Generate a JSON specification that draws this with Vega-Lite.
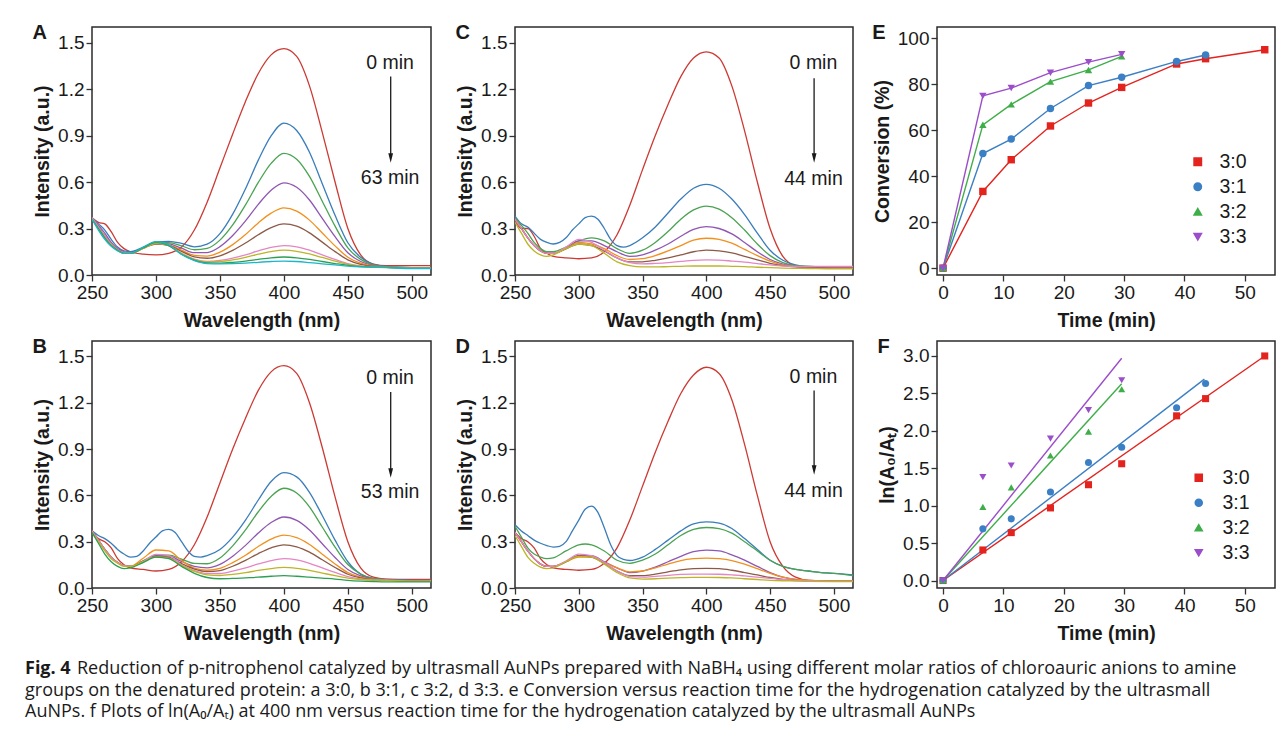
{
"$schema": "https://vega.github.io/schema/vega-lite/v6.json",
"background": "white",
"padding": {"left": 25, "top": 22, "right": 0, "bottom": 0},
"config": {
  "view": {"stroke": "#2b2b2b", "strokeWidth": 1.5},
  "axis": {"labelFont": "Liberation Sans", "labelFontSize": 19, "titleFont": "Liberation Sans", "titleFontSize": 19.5, "titleFontWeight": "bold", "labelColor": "#1a1a1a", "titleColor": "#1a1a1a", "tickColor": "#333333", "tickWidth": 1.3, "domain": false, "grid": false, "labelPadding": 2, "labelFlush": false, "labelOverlap": false},
  "axisX": {"titlePadding": 9},
  "axisY": {"titlePadding": 5},
  "title": {"anchor": "start", "frame": "bounds", "fontSize": 20, "fontWeight": "bold", "font": "Liberation Sans", "color": "#1a1a1a", "baseline": "top", "offset": -16},
  "text": {"font": "Liberation Sans"}
},
"datasets": {
"sA": [
{"k":0,"w":250,"v":0.37},{"k":0,"w":255,"v":0.34},{"k":0,"w":260,"v":0.33},{"k":0,"w":265,"v":0.28},{"k":0,"w":270,"v":0.21},{"k":0,"w":275,"v":0.17},{"k":0,"w":280,"v":0.15},{"k":0,"w":290,"v":0.135},{"k":0,"w":300,"v":0.13},{"k":0,"w":310,"v":0.14},{"k":0,"w":320,"v":0.18},{"k":0,"w":330,"v":0.29},{"k":0,"w":340,"v":0.47},{"k":0,"w":350,"v":0.69},{"k":0,"w":360,"v":0.91},{"k":0,"w":370,"v":1.12},{"k":0,"w":380,"v":1.3},{"k":0,"w":390,"v":1.42},{"k":0,"w":400,"v":1.46},{"k":0,"w":410,"v":1.41},{"k":0,"w":420,"v":1.22},{"k":0,"w":430,"v":0.92},{"k":0,"w":440,"v":0.6},{"k":0,"w":450,"v":0.3},{"k":0,"w":460,"v":0.13},{"k":0,"w":470,"v":0.07},{"k":0,"w":480,"v":0.06},{"k":0,"w":500,"v":0.06},{"k":0,"w":515,"v":0.06},
{"k":1,"w":250,"v":0.37},{"k":1,"w":255,"v":0.33},{"k":1,"w":260,"v":0.29},{"k":1,"w":265,"v":0.23},{"k":1,"w":270,"v":0.18},{"k":1,"w":275,"v":0.155},{"k":1,"w":280,"v":0.15},{"k":1,"w":290,"v":0.179},{"k":1,"w":300,"v":0.213},{"k":1,"w":310,"v":0.217},{"k":1,"w":320,"v":0.204},{"k":1,"w":330,"v":0.182},{"k":1,"w":340,"v":0.199},{"k":1,"w":350,"v":0.267},{"k":1,"w":360,"v":0.393},{"k":1,"w":370,"v":0.557},{"k":1,"w":380,"v":0.741},{"k":1,"w":390,"v":0.897},{"k":1,"w":400,"v":0.98},{"k":1,"w":410,"v":0.932},{"k":1,"w":420,"v":0.792},{"k":1,"w":430,"v":0.589},{"k":1,"w":440,"v":0.385},{"k":1,"w":450,"v":0.208},{"k":1,"w":460,"v":0.114},{"k":1,"w":470,"v":0.068},{"k":1,"w":480,"v":0.055},{"k":1,"w":500,"v":0.048},{"k":1,"w":515,"v":0.048},
{"k":2,"w":250,"v":0.37},{"k":2,"w":255,"v":0.31},{"k":2,"w":260,"v":0.25},{"k":2,"w":265,"v":0.2},{"k":2,"w":270,"v":0.165},{"k":2,"w":275,"v":0.145},{"k":2,"w":280,"v":0.14},{"k":2,"w":290,"v":0.177},{"k":2,"w":300,"v":0.21},{"k":2,"w":310,"v":0.209},{"k":2,"w":320,"v":0.188},{"k":2,"w":330,"v":0.163},{"k":2,"w":340,"v":0.172},{"k":2,"w":350,"v":0.225},{"k":2,"w":360,"v":0.323},{"k":2,"w":370,"v":0.452},{"k":2,"w":380,"v":0.597},{"k":2,"w":390,"v":0.72},{"k":2,"w":400,"v":0.785},{"k":2,"w":410,"v":0.747},{"k":2,"w":420,"v":0.636},{"k":2,"w":430,"v":0.476},{"k":2,"w":440,"v":0.315},{"k":2,"w":450,"v":0.175},{"k":2,"w":460,"v":0.101},{"k":2,"w":470,"v":0.065},{"k":2,"w":480,"v":0.054},{"k":2,"w":500,"v":0.048},{"k":2,"w":515,"v":0.048},
{"k":3,"w":250,"v":0.37},{"k":3,"w":255,"v":0.32},{"k":3,"w":260,"v":0.27},{"k":3,"w":265,"v":0.21},{"k":3,"w":270,"v":0.17},{"k":3,"w":275,"v":0.15},{"k":3,"w":280,"v":0.14},{"k":3,"w":290,"v":0.175},{"k":3,"w":300,"v":0.206},{"k":3,"w":310,"v":0.201},{"k":3,"w":320,"v":0.173},{"k":3,"w":330,"v":0.144},{"k":3,"w":340,"v":0.145},{"k":3,"w":350,"v":0.183},{"k":3,"w":360,"v":0.255},{"k":3,"w":370,"v":0.349},{"k":3,"w":380,"v":0.456},{"k":3,"w":390,"v":0.547},{"k":3,"w":400,"v":0.595},{"k":3,"w":410,"v":0.566},{"k":3,"w":420,"v":0.484},{"k":3,"w":430,"v":0.365},{"k":3,"w":440,"v":0.247},{"k":3,"w":450,"v":0.143},{"k":3,"w":460,"v":0.087},{"k":3,"w":470,"v":0.061},{"k":3,"w":480,"v":0.053},{"k":3,"w":500,"v":0.047},{"k":3,"w":515,"v":0.047},
{"k":4,"w":250,"v":0.37},{"k":4,"w":255,"v":0.31},{"k":4,"w":260,"v":0.25},{"k":4,"w":265,"v":0.2},{"k":4,"w":270,"v":0.165},{"k":4,"w":275,"v":0.145},{"k":4,"w":280,"v":0.14},{"k":4,"w":290,"v":0.174},{"k":4,"w":300,"v":0.202},{"k":4,"w":310,"v":0.195},{"k":4,"w":320,"v":0.16},{"k":4,"w":330,"v":0.127},{"k":4,"w":340,"v":0.122},{"k":4,"w":350,"v":0.147},{"k":4,"w":360,"v":0.196},{"k":4,"w":370,"v":0.261},{"k":4,"w":380,"v":0.336},{"k":4,"w":390,"v":0.399},{"k":4,"w":400,"v":0.433},{"k":4,"w":410,"v":0.412},{"k":4,"w":420,"v":0.354},{"k":4,"w":430,"v":0.271},{"k":4,"w":440,"v":0.188},{"k":4,"w":450,"v":0.115},{"k":4,"w":460,"v":0.076},{"k":4,"w":470,"v":0.057},{"k":4,"w":480,"v":0.052},{"k":4,"w":500,"v":0.046},{"k":4,"w":515,"v":0.046},
{"k":5,"w":250,"v":0.37},{"k":5,"w":255,"v":0.31},{"k":5,"w":260,"v":0.25},{"k":5,"w":265,"v":0.2},{"k":5,"w":270,"v":0.165},{"k":5,"w":275,"v":0.145},{"k":5,"w":280,"v":0.14},{"k":5,"w":290,"v":0.173},{"k":5,"w":300,"v":0.2},{"k":5,"w":310,"v":0.191},{"k":5,"w":320,"v":0.152},{"k":5,"w":330,"v":0.117},{"k":5,"w":340,"v":0.108},{"k":5,"w":350,"v":0.124},{"k":5,"w":360,"v":0.159},{"k":5,"w":370,"v":0.206},{"k":5,"w":380,"v":0.26},{"k":5,"w":390,"v":0.306},{"k":5,"w":400,"v":0.33},{"k":5,"w":410,"v":0.315},{"k":5,"w":420,"v":0.272},{"k":5,"w":430,"v":0.212},{"k":5,"w":440,"v":0.151},{"k":5,"w":450,"v":0.098},{"k":5,"w":460,"v":0.069},{"k":5,"w":470,"v":0.055},{"k":5,"w":480,"v":0.051},{"k":5,"w":500,"v":0.045},{"k":5,"w":515,"v":0.045},
{"k":6,"w":250,"v":0.37},{"k":6,"w":255,"v":0.31},{"k":6,"w":260,"v":0.25},{"k":6,"w":265,"v":0.2},{"k":6,"w":270,"v":0.165},{"k":6,"w":275,"v":0.145},{"k":6,"w":280,"v":0.14},{"k":6,"w":290,"v":0.171},{"k":6,"w":300,"v":0.205},{"k":6,"w":310,"v":0.19},{"k":6,"w":320,"v":0.14},{"k":6,"w":330,"v":0.103},{"k":6,"w":340,"v":0.088},{"k":6,"w":350,"v":0.094},{"k":6,"w":360,"v":0.109},{"k":6,"w":370,"v":0.13},{"k":6,"w":380,"v":0.156},{"k":6,"w":390,"v":0.178},{"k":6,"w":400,"v":0.19},{"k":6,"w":410,"v":0.182},{"k":6,"w":420,"v":0.16},{"k":6,"w":430,"v":0.13},{"k":6,"w":440,"v":0.101},{"k":6,"w":450,"v":0.074},{"k":6,"w":460,"v":0.059},{"k":6,"w":470,"v":0.053},{"k":6,"w":480,"v":0.051},{"k":6,"w":500,"v":0.045},{"k":6,"w":515,"v":0.045},
{"k":7,"w":250,"v":0.36},{"k":7,"w":255,"v":0.3},{"k":7,"w":260,"v":0.24},{"k":7,"w":265,"v":0.195},{"k":7,"w":270,"v":0.16},{"k":7,"w":275,"v":0.14},{"k":7,"w":280,"v":0.14},{"k":7,"w":290,"v":0.171},{"k":7,"w":300,"v":0.205},{"k":7,"w":310,"v":0.19},{"k":7,"w":320,"v":0.138},{"k":7,"w":330,"v":0.1},{"k":7,"w":340,"v":0.084},{"k":7,"w":350,"v":0.087},{"k":7,"w":360,"v":0.098},{"k":7,"w":370,"v":0.114},{"k":7,"w":380,"v":0.134},{"k":7,"w":390,"v":0.151},{"k":7,"w":400,"v":0.16},{"k":7,"w":410,"v":0.153},{"k":7,"w":420,"v":0.136},{"k":7,"w":430,"v":0.113},{"k":7,"w":440,"v":0.09},{"k":7,"w":450,"v":0.069},{"k":7,"w":460,"v":0.057},{"k":7,"w":470,"v":0.052},{"k":7,"w":480,"v":0.05},{"k":7,"w":500,"v":0.044},{"k":7,"w":515,"v":0.044},
{"k":8,"w":250,"v":0.36},{"k":8,"w":255,"v":0.3},{"k":8,"w":260,"v":0.24},{"k":8,"w":265,"v":0.19},{"k":8,"w":270,"v":0.16},{"k":8,"w":275,"v":0.14},{"k":8,"w":280,"v":0.14},{"k":8,"w":290,"v":0.175},{"k":8,"w":300,"v":0.21},{"k":8,"w":310,"v":0.19},{"k":8,"w":320,"v":0.134},{"k":8,"w":330,"v":0.096},{"k":8,"w":340,"v":0.078},{"k":8,"w":350,"v":0.077},{"k":8,"w":360,"v":0.082},{"k":8,"w":370,"v":0.09},{"k":8,"w":380,"v":0.101},{"k":8,"w":390,"v":0.111},{"k":8,"w":400,"v":0.116},{"k":8,"w":410,"v":0.111},{"k":8,"w":420,"v":0.101},{"k":8,"w":430,"v":0.087},{"k":8,"w":440,"v":0.074},{"k":8,"w":450,"v":0.062},{"k":8,"w":460,"v":0.054},{"k":8,"w":470,"v":0.051},{"k":8,"w":480,"v":0.05},{"k":8,"w":500,"v":0.043},{"k":8,"w":515,"v":0.043},
{"k":9,"w":250,"v":0.36},{"k":9,"w":255,"v":0.29},{"k":9,"w":260,"v":0.23},{"k":9,"w":265,"v":0.185},{"k":9,"w":270,"v":0.155},{"k":9,"w":275,"v":0.14},{"k":9,"w":280,"v":0.14},{"k":9,"w":290,"v":0.18},{"k":9,"w":300,"v":0.215},{"k":9,"w":310,"v":0.195},{"k":9,"w":320,"v":0.132},{"k":9,"w":330,"v":0.093},{"k":9,"w":340,"v":0.074},{"k":9,"w":350,"v":0.072},{"k":9,"w":360,"v":0.073},{"k":9,"w":370,"v":0.076},{"k":9,"w":380,"v":0.082},{"k":9,"w":390,"v":0.087},{"k":9,"w":400,"v":0.09},{"k":9,"w":410,"v":0.087},{"k":9,"w":420,"v":0.08},{"k":9,"w":430,"v":0.072},{"k":9,"w":440,"v":0.065},{"k":9,"w":450,"v":0.057},{"k":9,"w":460,"v":0.052},{"k":9,"w":470,"v":0.05},{"k":9,"w":480,"v":0.048},{"k":9,"w":500,"v":0.042},{"k":9,"w":515,"v":0.042}
],
"sB": [
{"k":0,"w":250,"v":0.37},{"k":0,"w":255,"v":0.32},{"k":0,"w":260,"v":0.3},{"k":0,"w":265,"v":0.26},{"k":0,"w":270,"v":0.19},{"k":0,"w":275,"v":0.15},{"k":0,"w":280,"v":0.13},{"k":0,"w":290,"v":0.12},{"k":0,"w":300,"v":0.11},{"k":0,"w":310,"v":0.12},{"k":0,"w":320,"v":0.17},{"k":0,"w":330,"v":0.28},{"k":0,"w":340,"v":0.46},{"k":0,"w":350,"v":0.68},{"k":0,"w":360,"v":0.9},{"k":0,"w":370,"v":1.1},{"k":0,"w":380,"v":1.28},{"k":0,"w":390,"v":1.4},{"k":0,"w":400,"v":1.44},{"k":0,"w":410,"v":1.39},{"k":0,"w":420,"v":1.2},{"k":0,"w":430,"v":0.91},{"k":0,"w":440,"v":0.59},{"k":0,"w":450,"v":0.3},{"k":0,"w":460,"v":0.13},{"k":0,"w":470,"v":0.07},{"k":0,"w":480,"v":0.058},{"k":0,"w":500,"v":0.055},{"k":0,"w":515,"v":0.055},
{"k":1,"w":250,"v":0.37},{"k":1,"w":255,"v":0.34},{"k":1,"w":260,"v":0.32},{"k":1,"w":265,"v":0.29},{"k":1,"w":270,"v":0.25},{"k":1,"w":275,"v":0.22},{"k":1,"w":280,"v":0.2},{"k":1,"w":285,"v":0.205},{"k":1,"w":290,"v":0.24},{"k":1,"w":295,"v":0.29},{"k":1,"w":300,"v":0.33},{"k":1,"w":305,"v":0.37},{"k":1,"w":310,"v":0.38},{"k":1,"w":315,"v":0.36},{"k":1,"w":320,"v":0.3},{"k":1,"w":325,"v":0.24},{"k":1,"w":330,"v":0.205},{"k":1,"w":335,"v":0.2},{"k":1,"w":340,"v":0.21},{"k":1,"w":350,"v":0.25},{"k":1,"w":360,"v":0.33},{"k":1,"w":370,"v":0.44},{"k":1,"w":380,"v":0.57},{"k":1,"w":390,"v":0.69},{"k":1,"w":400,"v":0.747},{"k":1,"w":410,"v":0.72},{"k":1,"w":420,"v":0.62},{"k":1,"w":430,"v":0.47},{"k":1,"w":440,"v":0.31},{"k":1,"w":450,"v":0.17},{"k":1,"w":460,"v":0.09},{"k":1,"w":470,"v":0.062},{"k":1,"w":480,"v":0.055},{"k":1,"w":500,"v":0.05},{"k":1,"w":515,"v":0.05},
{"k":2,"w":250,"v":0.37},{"k":2,"w":255,"v":0.31},{"k":2,"w":260,"v":0.25},{"k":2,"w":265,"v":0.2},{"k":2,"w":270,"v":0.165},{"k":2,"w":275,"v":0.145},{"k":2,"w":280,"v":0.14},{"k":2,"w":290,"v":0.176},{"k":2,"w":300,"v":0.212},{"k":2,"w":310,"v":0.213},{"k":2,"w":320,"v":0.187},{"k":2,"w":330,"v":0.159},{"k":2,"w":340,"v":0.157},{"k":2,"w":350,"v":0.194},{"k":2,"w":360,"v":0.273},{"k":2,"w":370,"v":0.376},{"k":2,"w":380,"v":0.494},{"k":2,"w":390,"v":0.593},{"k":2,"w":400,"v":0.646},{"k":2,"w":410,"v":0.615},{"k":2,"w":420,"v":0.525},{"k":2,"w":430,"v":0.395},{"k":2,"w":440,"v":0.265},{"k":2,"w":450,"v":0.152},{"k":2,"w":460,"v":0.091},{"k":2,"w":470,"v":0.062},{"k":2,"w":480,"v":0.053},{"k":2,"w":500,"v":0.048},{"k":2,"w":515,"v":0.048},
{"k":3,"w":250,"v":0.37},{"k":3,"w":255,"v":0.31},{"k":3,"w":260,"v":0.25},{"k":3,"w":265,"v":0.2},{"k":3,"w":270,"v":0.165},{"k":3,"w":275,"v":0.145},{"k":3,"w":280,"v":0.14},{"k":3,"w":290,"v":0.174},{"k":3,"w":300,"v":0.208},{"k":3,"w":310,"v":0.206},{"k":3,"w":320,"v":0.172},{"k":3,"w":330,"v":0.14},{"k":3,"w":340,"v":0.131},{"k":3,"w":350,"v":0.153},{"k":3,"w":360,"v":0.206},{"k":3,"w":370,"v":0.276},{"k":3,"w":380,"v":0.356},{"k":3,"w":390,"v":0.424},{"k":3,"w":400,"v":0.46},{"k":3,"w":410,"v":0.438},{"k":3,"w":420,"v":0.376},{"k":3,"w":430,"v":0.287},{"k":3,"w":440,"v":0.198},{"k":3,"w":450,"v":0.12},{"k":3,"w":460,"v":0.078},{"k":3,"w":470,"v":0.058},{"k":3,"w":480,"v":0.052},{"k":3,"w":500,"v":0.047},{"k":3,"w":515,"v":0.047},
{"k":4,"w":250,"v":0.37},{"k":4,"w":255,"v":0.31},{"k":4,"w":260,"v":0.25},{"k":4,"w":265,"v":0.2},{"k":4,"w":270,"v":0.165},{"k":4,"w":275,"v":0.145},{"k":4,"w":280,"v":0.14},{"k":4,"w":290,"v":0.193},{"k":4,"w":300,"v":0.246},{"k":4,"w":310,"v":0.241},{"k":4,"w":320,"v":0.178},{"k":4,"w":330,"v":0.128},{"k":4,"w":340,"v":0.115},{"k":4,"w":350,"v":0.127},{"k":4,"w":360,"v":0.164},{"k":4,"w":370,"v":0.212},{"k":4,"w":380,"v":0.269},{"k":4,"w":390,"v":0.317},{"k":4,"w":400,"v":0.342},{"k":4,"w":410,"v":0.326},{"k":4,"w":420,"v":0.282},{"k":4,"w":430,"v":0.219},{"k":4,"w":440,"v":0.156},{"k":4,"w":450,"v":0.1},{"k":4,"w":460,"v":0.07},{"k":4,"w":470,"v":0.056},{"k":4,"w":480,"v":0.051},{"k":4,"w":500,"v":0.046},{"k":4,"w":515,"v":0.046},
{"k":5,"w":250,"v":0.37},{"k":5,"w":255,"v":0.31},{"k":5,"w":260,"v":0.25},{"k":5,"w":265,"v":0.2},{"k":5,"w":270,"v":0.165},{"k":5,"w":275,"v":0.145},{"k":5,"w":280,"v":0.14},{"k":5,"w":290,"v":0.172},{"k":5,"w":300,"v":0.204},{"k":5,"w":310,"v":0.199},{"k":5,"w":320,"v":0.158},{"k":5,"w":330,"v":0.122},{"k":5,"w":340,"v":0.106},{"k":5,"w":350,"v":0.113},{"k":5,"w":360,"v":0.141},{"k":5,"w":370,"v":0.179},{"k":5,"w":380,"v":0.223},{"k":5,"w":390,"v":0.26},{"k":5,"w":400,"v":0.28},{"k":5,"w":410,"v":0.267},{"k":5,"w":420,"v":0.232},{"k":5,"w":430,"v":0.183},{"k":5,"w":440,"v":0.133},{"k":5,"w":450,"v":0.089},{"k":5,"w":460,"v":0.065},{"k":5,"w":470,"v":0.054},{"k":5,"w":480,"v":0.051},{"k":5,"w":500,"v":0.046},{"k":5,"w":515,"v":0.046},
{"k":6,"w":250,"v":0.37},{"k":6,"w":255,"v":0.31},{"k":6,"w":260,"v":0.25},{"k":6,"w":265,"v":0.2},{"k":6,"w":270,"v":0.165},{"k":6,"w":275,"v":0.145},{"k":6,"w":280,"v":0.14},{"k":6,"w":290,"v":0.171},{"k":6,"w":300,"v":0.218},{"k":6,"w":310,"v":0.21},{"k":6,"w":320,"v":0.15},{"k":6,"w":330,"v":0.113},{"k":6,"w":340,"v":0.093},{"k":6,"w":350,"v":0.094},{"k":6,"w":360,"v":0.109},{"k":6,"w":370,"v":0.13},{"k":6,"w":380,"v":0.156},{"k":6,"w":390,"v":0.178},{"k":6,"w":400,"v":0.19},{"k":6,"w":410,"v":0.182},{"k":6,"w":420,"v":0.16},{"k":6,"w":430,"v":0.13},{"k":6,"w":440,"v":0.101},{"k":6,"w":450,"v":0.074},{"k":6,"w":460,"v":0.059},{"k":6,"w":470,"v":0.053},{"k":6,"w":480,"v":0.051},{"k":6,"w":500,"v":0.045},{"k":6,"w":515,"v":0.045},
{"k":7,"w":250,"v":0.36},{"k":7,"w":255,"v":0.3},{"k":7,"w":260,"v":0.24},{"k":7,"w":265,"v":0.19},{"k":7,"w":270,"v":0.16},{"k":7,"w":275,"v":0.14},{"k":7,"w":280,"v":0.14},{"k":7,"w":290,"v":0.171},{"k":7,"w":300,"v":0.201},{"k":7,"w":310,"v":0.193},{"k":7,"w":320,"v":0.146},{"k":7,"w":330,"v":0.107},{"k":7,"w":340,"v":0.085},{"k":7,"w":350,"v":0.081},{"k":7,"w":360,"v":0.088},{"k":7,"w":370,"v":0.099},{"k":7,"w":380,"v":0.114},{"k":7,"w":390,"v":0.126},{"k":7,"w":400,"v":0.133},{"k":7,"w":410,"v":0.127},{"k":7,"w":420,"v":0.114},{"k":7,"w":430,"v":0.097},{"k":7,"w":440,"v":0.08},{"k":7,"w":450,"v":0.064},{"k":7,"w":460,"v":0.055},{"k":7,"w":470,"v":0.051},{"k":7,"w":480,"v":0.05},{"k":7,"w":500,"v":0.044},{"k":7,"w":515,"v":0.044},
{"k":8,"w":250,"v":0.36},{"k":8,"w":255,"v":0.29},{"k":8,"w":260,"v":0.22},{"k":8,"w":265,"v":0.17},{"k":8,"w":270,"v":0.14},{"k":8,"w":275,"v":0.125},{"k":8,"w":280,"v":0.13},{"k":8,"w":290,"v":0.165},{"k":8,"w":300,"v":0.2},{"k":8,"w":310,"v":0.19},{"k":8,"w":320,"v":0.14},{"k":8,"w":330,"v":0.095},{"k":8,"w":340,"v":0.068},{"k":8,"w":350,"v":0.06},{"k":8,"w":360,"v":0.062},{"k":8,"w":370,"v":0.066},{"k":8,"w":380,"v":0.07},{"k":8,"w":390,"v":0.076},{"k":8,"w":400,"v":0.08},{"k":8,"w":410,"v":0.076},{"k":8,"w":420,"v":0.07},{"k":8,"w":430,"v":0.064},{"k":8,"w":440,"v":0.058},{"k":8,"w":450,"v":0.05},{"k":8,"w":460,"v":0.045},{"k":8,"w":470,"v":0.042},{"k":8,"w":480,"v":0.04},{"k":8,"w":500,"v":0.04},{"k":8,"w":515,"v":0.04}
],
"sC": [
{"k":0,"w":250,"v":0.35},{"k":0,"w":255,"v":0.3},{"k":0,"w":260,"v":0.3},{"k":0,"w":265,"v":0.25},{"k":0,"w":270,"v":0.17},{"k":0,"w":275,"v":0.14},{"k":0,"w":280,"v":0.12},{"k":0,"w":290,"v":0.11},{"k":0,"w":300,"v":0.105},{"k":0,"w":310,"v":0.11},{"k":0,"w":320,"v":0.15},{"k":0,"w":330,"v":0.26},{"k":0,"w":340,"v":0.45},{"k":0,"w":350,"v":0.68},{"k":0,"w":360,"v":0.9},{"k":0,"w":370,"v":1.1},{"k":0,"w":380,"v":1.28},{"k":0,"w":390,"v":1.4},{"k":0,"w":400,"v":1.44},{"k":0,"w":410,"v":1.4},{"k":0,"w":420,"v":1.22},{"k":0,"w":430,"v":0.93},{"k":0,"w":440,"v":0.6},{"k":0,"w":450,"v":0.3},{"k":0,"w":460,"v":0.12},{"k":0,"w":470,"v":0.06},{"k":0,"w":480,"v":0.05},{"k":0,"w":500,"v":0.05},{"k":0,"w":515,"v":0.05},
{"k":1,"w":250,"v":0.38},{"k":1,"w":255,"v":0.33},{"k":1,"w":260,"v":0.31},{"k":1,"w":265,"v":0.27},{"k":1,"w":270,"v":0.23},{"k":1,"w":275,"v":0.21},{"k":1,"w":280,"v":0.2},{"k":1,"w":285,"v":0.21},{"k":1,"w":290,"v":0.24},{"k":1,"w":295,"v":0.29},{"k":1,"w":300,"v":0.33},{"k":1,"w":305,"v":0.37},{"k":1,"w":310,"v":0.38},{"k":1,"w":315,"v":0.36},{"k":1,"w":320,"v":0.3},{"k":1,"w":325,"v":0.23},{"k":1,"w":330,"v":0.19},{"k":1,"w":335,"v":0.18},{"k":1,"w":340,"v":0.19},{"k":1,"w":350,"v":0.24},{"k":1,"w":360,"v":0.31},{"k":1,"w":370,"v":0.4},{"k":1,"w":380,"v":0.49},{"k":1,"w":390,"v":0.56},{"k":1,"w":400,"v":0.585},{"k":1,"w":410,"v":0.56},{"k":1,"w":420,"v":0.49},{"k":1,"w":430,"v":0.39},{"k":1,"w":440,"v":0.27},{"k":1,"w":450,"v":0.16},{"k":1,"w":460,"v":0.095},{"k":1,"w":470,"v":0.065},{"k":1,"w":480,"v":0.055},{"k":1,"w":500,"v":0.05},{"k":1,"w":515,"v":0.05},
{"k":2,"w":250,"v":0.37},{"k":2,"w":255,"v":0.32},{"k":2,"w":260,"v":0.27},{"k":2,"w":265,"v":0.21},{"k":2,"w":270,"v":0.17},{"k":2,"w":275,"v":0.15},{"k":2,"w":280,"v":0.15},{"k":2,"w":290,"v":0.18},{"k":2,"w":300,"v":0.22},{"k":2,"w":310,"v":0.24},{"k":2,"w":320,"v":0.22},{"k":2,"w":330,"v":0.17},{"k":2,"w":340,"v":0.14},{"k":2,"w":350,"v":0.16},{"k":2,"w":360,"v":0.21},{"k":2,"w":370,"v":0.28},{"k":2,"w":380,"v":0.36},{"k":2,"w":390,"v":0.42},{"k":2,"w":400,"v":0.445},{"k":2,"w":410,"v":0.425},{"k":2,"w":420,"v":0.37},{"k":2,"w":430,"v":0.29},{"k":2,"w":440,"v":0.2},{"k":2,"w":450,"v":0.125},{"k":2,"w":460,"v":0.08},{"k":2,"w":470,"v":0.06},{"k":2,"w":480,"v":0.055},{"k":2,"w":500,"v":0.05},{"k":2,"w":515,"v":0.05},
{"k":3,"w":250,"v":0.36},{"k":3,"w":255,"v":0.3},{"k":3,"w":260,"v":0.24},{"k":3,"w":265,"v":0.19},{"k":3,"w":270,"v":0.155},{"k":3,"w":275,"v":0.14},{"k":3,"w":280,"v":0.14},{"k":3,"w":290,"v":0.17},{"k":3,"w":300,"v":0.22},{"k":3,"w":310,"v":0.22},{"k":3,"w":320,"v":0.19},{"k":3,"w":330,"v":0.15},{"k":3,"w":340,"v":0.12},{"k":3,"w":350,"v":0.13},{"k":3,"w":360,"v":0.16},{"k":3,"w":370,"v":0.2},{"k":3,"w":380,"v":0.25},{"k":3,"w":390,"v":0.295},{"k":3,"w":400,"v":0.312},{"k":3,"w":410,"v":0.3},{"k":3,"w":420,"v":0.265},{"k":3,"w":430,"v":0.21},{"k":3,"w":440,"v":0.15},{"k":3,"w":450,"v":0.1},{"k":3,"w":460,"v":0.07},{"k":3,"w":470,"v":0.055},{"k":3,"w":480,"v":0.05},{"k":3,"w":500,"v":0.048},{"k":3,"w":515,"v":0.048},
{"k":4,"w":250,"v":0.36},{"k":4,"w":255,"v":0.3},{"k":4,"w":260,"v":0.24},{"k":4,"w":265,"v":0.19},{"k":4,"w":270,"v":0.155},{"k":4,"w":275,"v":0.14},{"k":4,"w":280,"v":0.14},{"k":4,"w":290,"v":0.17},{"k":4,"w":300,"v":0.21},{"k":4,"w":310,"v":0.2},{"k":4,"w":320,"v":0.17},{"k":4,"w":330,"v":0.125},{"k":4,"w":340,"v":0.1},{"k":4,"w":350,"v":0.105},{"k":4,"w":360,"v":0.125},{"k":4,"w":370,"v":0.155},{"k":4,"w":380,"v":0.19},{"k":4,"w":390,"v":0.225},{"k":4,"w":400,"v":0.237},{"k":4,"w":410,"v":0.23},{"k":4,"w":420,"v":0.205},{"k":4,"w":430,"v":0.165},{"k":4,"w":440,"v":0.125},{"k":4,"w":450,"v":0.09},{"k":4,"w":460,"v":0.065},{"k":4,"w":470,"v":0.055},{"k":4,"w":480,"v":0.05},{"k":4,"w":500,"v":0.046},{"k":4,"w":515,"v":0.046},
{"k":5,"w":250,"v":0.36},{"k":5,"w":255,"v":0.3},{"k":5,"w":260,"v":0.24},{"k":5,"w":265,"v":0.19},{"k":5,"w":270,"v":0.155},{"k":5,"w":275,"v":0.14},{"k":5,"w":280,"v":0.14},{"k":5,"w":290,"v":0.17},{"k":5,"w":300,"v":0.2},{"k":5,"w":310,"v":0.19},{"k":5,"w":320,"v":0.155},{"k":5,"w":330,"v":0.11},{"k":5,"w":340,"v":0.085},{"k":5,"w":350,"v":0.085},{"k":5,"w":360,"v":0.095},{"k":5,"w":370,"v":0.11},{"k":5,"w":380,"v":0.13},{"k":5,"w":390,"v":0.15},{"k":5,"w":400,"v":0.16},{"k":5,"w":410,"v":0.156},{"k":5,"w":420,"v":0.142},{"k":5,"w":430,"v":0.12},{"k":5,"w":440,"v":0.098},{"k":5,"w":450,"v":0.075},{"k":5,"w":460,"v":0.06},{"k":5,"w":470,"v":0.052},{"k":5,"w":480,"v":0.05},{"k":5,"w":500,"v":0.046},{"k":5,"w":515,"v":0.046},
{"k":6,"w":250,"v":0.36},{"k":6,"w":255,"v":0.3},{"k":6,"w":260,"v":0.24},{"k":6,"w":265,"v":0.19},{"k":6,"w":270,"v":0.155},{"k":6,"w":275,"v":0.14},{"k":6,"w":280,"v":0.14},{"k":6,"w":290,"v":0.18},{"k":6,"w":300,"v":0.23},{"k":6,"w":310,"v":0.21},{"k":6,"w":320,"v":0.16},{"k":6,"w":330,"v":0.11},{"k":6,"w":340,"v":0.08},{"k":6,"w":350,"v":0.072},{"k":6,"w":360,"v":0.075},{"k":6,"w":370,"v":0.08},{"k":6,"w":380,"v":0.088},{"k":6,"w":390,"v":0.095},{"k":6,"w":400,"v":0.097},{"k":6,"w":410,"v":0.096},{"k":6,"w":420,"v":0.09},{"k":6,"w":430,"v":0.083},{"k":6,"w":440,"v":0.074},{"k":6,"w":450,"v":0.065},{"k":6,"w":460,"v":0.058},{"k":6,"w":470,"v":0.055},{"k":6,"w":480,"v":0.055},{"k":6,"w":500,"v":0.055},{"k":6,"w":515,"v":0.055},
{"k":7,"w":250,"v":0.34},{"k":7,"w":255,"v":0.27},{"k":7,"w":260,"v":0.2},{"k":7,"w":265,"v":0.155},{"k":7,"w":270,"v":0.13},{"k":7,"w":275,"v":0.12},{"k":7,"w":280,"v":0.13},{"k":7,"w":290,"v":0.17},{"k":7,"w":300,"v":0.2},{"k":7,"w":310,"v":0.19},{"k":7,"w":320,"v":0.14},{"k":7,"w":330,"v":0.085},{"k":7,"w":340,"v":0.06},{"k":7,"w":350,"v":0.052},{"k":7,"w":360,"v":0.052},{"k":7,"w":370,"v":0.054},{"k":7,"w":380,"v":0.056},{"k":7,"w":390,"v":0.058},{"k":7,"w":400,"v":0.058},{"k":7,"w":410,"v":0.058},{"k":7,"w":420,"v":0.056},{"k":7,"w":430,"v":0.054},{"k":7,"w":440,"v":0.05},{"k":7,"w":450,"v":0.047},{"k":7,"w":460,"v":0.045},{"k":7,"w":470,"v":0.043},{"k":7,"w":480,"v":0.042},{"k":7,"w":500,"v":0.04},{"k":7,"w":515,"v":0.04}
],
"sD": [
{"k":0,"w":250,"v":0.36},{"k":0,"w":255,"v":0.32},{"k":0,"w":260,"v":0.3},{"k":0,"w":265,"v":0.26},{"k":0,"w":270,"v":0.19},{"k":0,"w":275,"v":0.15},{"k":0,"w":280,"v":0.13},{"k":0,"w":290,"v":0.12},{"k":0,"w":300,"v":0.115},{"k":0,"w":310,"v":0.12},{"k":0,"w":320,"v":0.16},{"k":0,"w":330,"v":0.26},{"k":0,"w":340,"v":0.44},{"k":0,"w":350,"v":0.66},{"k":0,"w":360,"v":0.88},{"k":0,"w":370,"v":1.08},{"k":0,"w":380,"v":1.26},{"k":0,"w":390,"v":1.38},{"k":0,"w":400,"v":1.43},{"k":0,"w":410,"v":1.39},{"k":0,"w":420,"v":1.22},{"k":0,"w":430,"v":0.93},{"k":0,"w":440,"v":0.6},{"k":0,"w":450,"v":0.3},{"k":0,"w":460,"v":0.14},{"k":0,"w":470,"v":0.07},{"k":0,"w":480,"v":0.05},{"k":0,"w":500,"v":0.045},{"k":0,"w":515,"v":0.045},
{"k":1,"w":250,"v":0.41},{"k":1,"w":255,"v":0.37},{"k":1,"w":260,"v":0.34},{"k":1,"w":265,"v":0.31},{"k":1,"w":270,"v":0.29},{"k":1,"w":275,"v":0.275},{"k":1,"w":280,"v":0.265},{"k":1,"w":285,"v":0.27},{"k":1,"w":290,"v":0.3},{"k":1,"w":295,"v":0.37},{"k":1,"w":300,"v":0.44},{"k":1,"w":305,"v":0.51},{"k":1,"w":310,"v":0.53},{"k":1,"w":315,"v":0.49},{"k":1,"w":320,"v":0.39},{"k":1,"w":325,"v":0.28},{"k":1,"w":330,"v":0.21},{"k":1,"w":335,"v":0.185},{"k":1,"w":340,"v":0.178},{"k":1,"w":350,"v":0.2},{"k":1,"w":360,"v":0.25},{"k":1,"w":370,"v":0.31},{"k":1,"w":380,"v":0.37},{"k":1,"w":390,"v":0.415},{"k":1,"w":400,"v":0.428},{"k":1,"w":410,"v":0.42},{"k":1,"w":420,"v":0.385},{"k":1,"w":430,"v":0.32},{"k":1,"w":440,"v":0.25},{"k":1,"w":450,"v":0.18},{"k":1,"w":460,"v":0.14},{"k":1,"w":470,"v":0.12},{"k":1,"w":480,"v":0.11},{"k":1,"w":490,"v":0.1},{"k":1,"w":500,"v":0.095},{"k":1,"w":515,"v":0.085},
{"k":2,"w":250,"v":0.4},{"k":2,"w":255,"v":0.33},{"k":2,"w":260,"v":0.26},{"k":2,"w":265,"v":0.22},{"k":2,"w":270,"v":0.2},{"k":2,"w":275,"v":0.19},{"k":2,"w":280,"v":0.195},{"k":2,"w":290,"v":0.24},{"k":2,"w":300,"v":0.28},{"k":2,"w":305,"v":0.285},{"k":2,"w":310,"v":0.28},{"k":2,"w":320,"v":0.24},{"k":2,"w":330,"v":0.18},{"k":2,"w":340,"v":0.16},{"k":2,"w":350,"v":0.18},{"k":2,"w":360,"v":0.22},{"k":2,"w":370,"v":0.28},{"k":2,"w":380,"v":0.34},{"k":2,"w":390,"v":0.38},{"k":2,"w":400,"v":0.392},{"k":2,"w":410,"v":0.385},{"k":2,"w":420,"v":0.355},{"k":2,"w":430,"v":0.3},{"k":2,"w":440,"v":0.24},{"k":2,"w":450,"v":0.18},{"k":2,"w":460,"v":0.14},{"k":2,"w":470,"v":0.12},{"k":2,"w":480,"v":0.11},{"k":2,"w":490,"v":0.1},{"k":2,"w":500,"v":0.095},{"k":2,"w":515,"v":0.08},
{"k":3,"w":250,"v":0.36},{"k":3,"w":255,"v":0.3},{"k":3,"w":260,"v":0.24},{"k":3,"w":265,"v":0.19},{"k":3,"w":270,"v":0.155},{"k":3,"w":275,"v":0.14},{"k":3,"w":280,"v":0.14},{"k":3,"w":290,"v":0.17},{"k":3,"w":300,"v":0.21},{"k":3,"w":310,"v":0.21},{"k":3,"w":320,"v":0.17},{"k":3,"w":330,"v":0.13},{"k":3,"w":340,"v":0.1},{"k":3,"w":350,"v":0.11},{"k":3,"w":360,"v":0.135},{"k":3,"w":370,"v":0.17},{"k":3,"w":380,"v":0.205},{"k":3,"w":390,"v":0.235},{"k":3,"w":400,"v":0.245},{"k":3,"w":410,"v":0.24},{"k":3,"w":420,"v":0.215},{"k":3,"w":430,"v":0.18},{"k":3,"w":440,"v":0.14},{"k":3,"w":450,"v":0.1},{"k":3,"w":460,"v":0.07},{"k":3,"w":470,"v":0.055},{"k":3,"w":480,"v":0.05},{"k":3,"w":500,"v":0.045},{"k":3,"w":515,"v":0.045},
{"k":4,"w":250,"v":0.36},{"k":4,"w":255,"v":0.3},{"k":4,"w":260,"v":0.24},{"k":4,"w":265,"v":0.19},{"k":4,"w":270,"v":0.155},{"k":4,"w":275,"v":0.14},{"k":4,"w":280,"v":0.14},{"k":4,"w":290,"v":0.17},{"k":4,"w":300,"v":0.2},{"k":4,"w":310,"v":0.2},{"k":4,"w":320,"v":0.165},{"k":4,"w":330,"v":0.13},{"k":4,"w":340,"v":0.105},{"k":4,"w":350,"v":0.11},{"k":4,"w":360,"v":0.13},{"k":4,"w":370,"v":0.155},{"k":4,"w":380,"v":0.178},{"k":4,"w":390,"v":0.19},{"k":4,"w":400,"v":0.194},{"k":4,"w":410,"v":0.19},{"k":4,"w":420,"v":0.178},{"k":4,"w":430,"v":0.155},{"k":4,"w":440,"v":0.125},{"k":4,"w":450,"v":0.095},{"k":4,"w":460,"v":0.07},{"k":4,"w":470,"v":0.055},{"k":4,"w":480,"v":0.05},{"k":4,"w":500,"v":0.045},{"k":4,"w":515,"v":0.045},
{"k":5,"w":250,"v":0.36},{"k":5,"w":255,"v":0.3},{"k":5,"w":260,"v":0.24},{"k":5,"w":265,"v":0.19},{"k":5,"w":270,"v":0.155},{"k":5,"w":275,"v":0.14},{"k":5,"w":280,"v":0.14},{"k":5,"w":290,"v":0.17},{"k":5,"w":300,"v":0.21},{"k":5,"w":310,"v":0.2},{"k":5,"w":320,"v":0.16},{"k":5,"w":330,"v":0.11},{"k":5,"w":340,"v":0.08},{"k":5,"w":350,"v":0.08},{"k":5,"w":360,"v":0.09},{"k":5,"w":370,"v":0.105},{"k":5,"w":380,"v":0.118},{"k":5,"w":390,"v":0.125},{"k":5,"w":400,"v":0.127},{"k":5,"w":410,"v":0.125},{"k":5,"w":420,"v":0.115},{"k":5,"w":430,"v":0.1},{"k":5,"w":440,"v":0.085},{"k":5,"w":450,"v":0.068},{"k":5,"w":460,"v":0.056},{"k":5,"w":470,"v":0.05},{"k":5,"w":480,"v":0.047},{"k":5,"w":500,"v":0.045},{"k":5,"w":515,"v":0.045},
{"k":6,"w":250,"v":0.36},{"k":6,"w":255,"v":0.3},{"k":6,"w":260,"v":0.24},{"k":6,"w":265,"v":0.19},{"k":6,"w":270,"v":0.155},{"k":6,"w":275,"v":0.14},{"k":6,"w":280,"v":0.14},{"k":6,"w":290,"v":0.175},{"k":6,"w":300,"v":0.22},{"k":6,"w":310,"v":0.21},{"k":6,"w":320,"v":0.165},{"k":6,"w":330,"v":0.11},{"k":6,"w":340,"v":0.075},{"k":6,"w":350,"v":0.07},{"k":6,"w":360,"v":0.075},{"k":6,"w":370,"v":0.082},{"k":6,"w":380,"v":0.088},{"k":6,"w":390,"v":0.09},{"k":6,"w":400,"v":0.09},{"k":6,"w":410,"v":0.089},{"k":6,"w":420,"v":0.085},{"k":6,"w":430,"v":0.078},{"k":6,"w":440,"v":0.07},{"k":6,"w":450,"v":0.062},{"k":6,"w":460,"v":0.055},{"k":6,"w":470,"v":0.05},{"k":6,"w":480,"v":0.047},{"k":6,"w":500,"v":0.045},{"k":6,"w":515,"v":0.045},
{"k":7,"w":250,"v":0.34},{"k":7,"w":255,"v":0.27},{"k":7,"w":260,"v":0.2},{"k":7,"w":265,"v":0.16},{"k":7,"w":270,"v":0.135},{"k":7,"w":275,"v":0.125},{"k":7,"w":280,"v":0.13},{"k":7,"w":290,"v":0.17},{"k":7,"w":300,"v":0.205},{"k":7,"w":310,"v":0.2},{"k":7,"w":320,"v":0.155},{"k":7,"w":330,"v":0.1},{"k":7,"w":340,"v":0.065},{"k":7,"w":350,"v":0.058},{"k":7,"w":360,"v":0.06},{"k":7,"w":370,"v":0.064},{"k":7,"w":380,"v":0.067},{"k":7,"w":390,"v":0.069},{"k":7,"w":400,"v":0.069},{"k":7,"w":410,"v":0.068},{"k":7,"w":420,"v":0.065},{"k":7,"w":430,"v":0.06},{"k":7,"w":440,"v":0.055},{"k":7,"w":450,"v":0.05},{"k":7,"w":460,"v":0.047},{"k":7,"w":470,"v":0.045},{"k":7,"w":480,"v":0.043},{"k":7,"w":500,"v":0.042},{"k":7,"w":515,"v":0.042}
],
"ann": [
{"p":"A","w":483,"v":1.37,"t":"0 min"},{"p":"A","w":483,"v":0.625,"t":"63 min"},
{"p":"B","w":483,"v":1.36,"t":"0 min"},{"p":"B","w":483,"v":0.62,"t":"53 min"},
{"p":"C","w":484,"v":1.37,"t":"0 min"},{"p":"C","w":484,"v":0.62,"t":"44 min"},
{"p":"D","w":484,"v":1.37,"t":"0 min"},{"p":"D","w":484,"v":0.63,"t":"44 min"}
],
"arr": [
{"p":"A","w":483.5,"v1":1.28,"v2":0.755},
{"p":"B","w":483.5,"v1":1.27,"v2":0.745},
{"p":"C","w":484.5,"v1":1.27,"v2":0.755},
{"p":"D","w":484.5,"v1":1.28,"v2":0.765}
],
"conv": [
{"s":"3:0","t":0,"c":0},{"s":"3:0","t":6.6,"c":33.4},{"s":"3:0","t":11.3,"c":47.2},{"s":"3:0","t":17.8,"c":61.9},{"s":"3:0","t":24.1,"c":71.9},{"s":"3:0","t":29.6,"c":78.7},{"s":"3:0","t":38.7,"c":88.9},{"s":"3:0","t":43.5,"c":91.2},{"s":"3:0","t":53.3,"c":95.1},
{"s":"3:1","t":0,"c":0},{"s":"3:1","t":6.6,"c":49.9},{"s":"3:1","t":11.3,"c":56.2},{"s":"3:1","t":17.8,"c":69.5},{"s":"3:1","t":24.1,"c":79.5},{"s":"3:1","t":29.6,"c":83.1},{"s":"3:1","t":38.7,"c":90.0},{"s":"3:1","t":43.5,"c":92.8},
{"s":"3:2","t":0,"c":0},{"s":"3:2","t":6.6,"c":62.4},{"s":"3:2","t":11.3,"c":71.3},{"s":"3:2","t":17.8,"c":81.2},{"s":"3:2","t":24.1,"c":86.3},{"s":"3:2","t":29.6,"c":92.2},
{"s":"3:3","t":0,"c":0},{"s":"3:3","t":6.6,"c":75.0},{"s":"3:3","t":11.3,"c":78.4},{"s":"3:3","t":17.8,"c":85.1},{"s":"3:3","t":24.1,"c":89.7},{"s":"3:3","t":29.6,"c":93.1}
],
"lnr": [
{"s":"3:0","t":0,"y":0},{"s":"3:0","t":6.6,"y":0.408},{"s":"3:0","t":11.3,"y":0.64},{"s":"3:0","t":17.8,"y":0.97},{"s":"3:0","t":24.1,"y":1.28},{"s":"3:0","t":29.6,"y":1.56},{"s":"3:0","t":38.7,"y":2.2},{"s":"3:0","t":43.5,"y":2.43},{"s":"3:0","t":53.3,"y":3.0},
{"s":"3:1","t":0,"y":0},{"s":"3:1","t":6.6,"y":0.69},{"s":"3:1","t":11.3,"y":0.824},{"s":"3:1","t":17.8,"y":1.183},{"s":"3:1","t":24.1,"y":1.577},{"s":"3:1","t":29.6,"y":1.781},{"s":"3:1","t":38.7,"y":2.308},{"s":"3:1","t":43.5,"y":2.632},
{"s":"3:2","t":0,"y":0},{"s":"3:2","t":6.6,"y":0.984},{"s":"3:2","t":11.3,"y":1.245},{"s":"3:2","t":17.8,"y":1.67},{"s":"3:2","t":24.1,"y":1.99},{"s":"3:2","t":29.6,"y":2.556},
{"s":"3:3","t":0,"y":0},{"s":"3:3","t":6.6,"y":1.382},{"s":"3:3","t":11.3,"y":1.537},{"s":"3:3","t":17.8,"y":1.896},{"s":"3:3","t":24.1,"y":2.277},{"s":"3:3","t":29.6,"y":2.676}
],
"fit": [
{"s":"3:0","t":0,"y":0},{"s":"3:0","t":53.3,"y":3.0},
{"s":"3:1","t":0,"y":0},{"s":"3:1","t":43.3,"y":2.69},
{"s":"3:2","t":0,"y":0},{"s":"3:2","t":29.6,"y":2.63},
{"s":"3:3","t":0,"y":0},{"s":"3:3","t":29.6,"y":2.97}
],
"cap": [
{"line":1,"seg":"b","text":"Fig. 4"},
{"line":1,"seg":"r","text":"Reduction of p-nitrophenol catalyzed by ultrasmall AuNPs prepared with NaBH₄ using different molar ratios of chloroauric anions to amine"},
{"line":2,"seg":"n","text":"groups on the denatured protein: a 3:0, b 3:1, c 3:2, d 3:3. e Conversion versus reaction time for the hydrogenation catalyzed by the ultrasmall"},
{"line":3,"seg":"n","text":"AuNPs. f Plots of ln(A₀/Aₜ) at 400 nm versus reaction time for the hydrogenation catalyzed by the ultrasmall AuNPs"}
]
},
"resolve": {"scale": {"color": "independent", "shape": "independent", "stroke": "independent"}, "legend": {"color": "independent", "shape": "independent", "stroke": "independent"}},
"spacing": 16,
"vconcat": [
{
"spacing": 5,
"resolve": {"scale": {"color": "independent", "shape": "independent", "stroke": "independent"}, "legend": {"color": "independent", "shape": "independent", "stroke": "independent"}},
"vconcat": [
{
"spacing": 17,
"resolve": {"scale": {"color": "independent", "shape": "independent", "stroke": "independent"}, "legend": {"color": "independent", "shape": "independent", "stroke": "independent"}},
"hconcat": [
{
"spacing": 22,
"resolve": {"scale": {"color": "independent", "shape": "independent", "stroke": "independent"}, "legend": {"color": "independent", "shape": "independent", "stroke": "independent"}},
"hconcat": [
{
"width": 339, "height": 248,
"title": {"text": "A"},
"layer": [
{"data": {"name": "sA"}, "mark": {"type": "line", "strokeWidth": 1.3, "interpolate": "monotone", "clip": true},
 "encoding": {
  "x": {"field": "w", "type": "quantitative", "scale": {"domain": [250, 515], "nice": false, "zero": false}, "axis": {"title": "Wavelength (nm)", "values": [250,275,300,325,350,375,400,425,450,475,500], "format": "d", "labelExpr": "datum.value % 50 == 0 ? datum.label : ''", "tickSize": {"condition": {"test": "datum.value % 50 == 0", "value": 6}, "value": 3}}},
  "y": {"field": "v", "type": "quantitative", "scale": {"domain": [0, 1.6], "nice": false, "zero": false}, "axis": {"title": "Intensity (a.u.)", "values": [0,0.15,0.3,0.45,0.6,0.75,0.9,1.05,1.2,1.35,1.5], "labelExpr": "round(datum.value*100) % 30 == 0 ? format(datum.value, '.1f') : ''", "tickSize": {"condition": {"test": "round(datum.value*100) % 30 == 0", "value": 6}, "value": 3}}},
  "color": {"field": "k", "type": "nominal", "scale": {"domain": [0,1,2,3,4,5,6,7,8,9], "range": ["#cc3a33","#3a7dbb","#4aa352","#8f57b2","#f2901e","#8c5a46","#e486c4","#bdb528","#2e9e55","#1db6c8"]}, "legend": null}
 }},
{"data": {"name": "ann"}, "transform": [{"filter": "datum.p == 'A'"}], "mark": {"type": "text", "fontSize": 19.5, "color": "#1a1a1a"},
 "encoding": {"x": {"field": "w", "type": "quantitative"}, "y": {"field": "v", "type": "quantitative"}, "text": {"field": "t"}}},
{"data": {"name": "arr"}, "transform": [{"filter": "datum.p == 'A'"}], "mark": {"type": "rule", "color": "#1a1a1a", "strokeWidth": 1.3},
 "encoding": {"x": {"field": "w", "type": "quantitative"}, "y": {"field": "v1", "type": "quantitative"}, "y2": {"field": "v2"}}},
{"data": {"name": "arr"}, "transform": [{"filter": "datum.p == 'A'"}], "mark": {"type": "point", "shape": "M-0.5,-1L0.5,-1L0,1Z", "filled": true, "color": "#1a1a1a", "size": 90, "opacity": 1},
 "encoding": {"x": {"field": "w", "type": "quantitative"}, "y": {"field": "v2", "type": "quantitative"}}}
]
},
{
"width": 338, "height": 248,
"title": {"text": "C"},
"layer": [
{"data": {"name": "sC"}, "mark": {"type": "line", "strokeWidth": 1.3, "interpolate": "monotone", "clip": true},
 "encoding": {
  "x": {"field": "w", "type": "quantitative", "scale": {"domain": [250, 515], "nice": false, "zero": false}, "axis": {"title": "Wavelength (nm)", "values": [250,275,300,325,350,375,400,425,450,475,500], "format": "d", "labelExpr": "datum.value % 50 == 0 ? datum.label : ''", "tickSize": {"condition": {"test": "datum.value % 50 == 0", "value": 6}, "value": 3}}},
  "y": {"field": "v", "type": "quantitative", "scale": {"domain": [0, 1.6], "nice": false, "zero": false}, "axis": {"title": "Intensity (a.u.)", "values": [0,0.15,0.3,0.45,0.6,0.75,0.9,1.05,1.2,1.35,1.5], "labelExpr": "round(datum.value*100) % 30 == 0 ? format(datum.value, '.1f') : ''", "tickSize": {"condition": {"test": "round(datum.value*100) % 30 == 0", "value": 6}, "value": 3}}},
  "color": {"field": "k", "type": "nominal", "scale": {"domain": [0,1,2,3,4,5,6,7,8,9], "range": ["#cc3a33","#3a7dbb","#4aa352","#8f57b2","#f2901e","#8c5a46","#e486c4","#bdb528","#2e9e55","#1db6c8"]}, "legend": null}
 }},
{"data": {"name": "ann"}, "transform": [{"filter": "datum.p == 'C'"}], "mark": {"type": "text", "fontSize": 19.5, "color": "#1a1a1a"},
 "encoding": {"x": {"field": "w", "type": "quantitative"}, "y": {"field": "v", "type": "quantitative"}, "text": {"field": "t"}}},
{"data": {"name": "arr"}, "transform": [{"filter": "datum.p == 'C'"}], "mark": {"type": "rule", "color": "#1a1a1a", "strokeWidth": 1.3},
 "encoding": {"x": {"field": "w", "type": "quantitative"}, "y": {"field": "v1", "type": "quantitative"}, "y2": {"field": "v2"}}},
{"data": {"name": "arr"}, "transform": [{"filter": "datum.p == 'C'"}], "mark": {"type": "point", "shape": "M-0.5,-1L0.5,-1L0,1Z", "filled": true, "color": "#1a1a1a", "size": 90, "opacity": 1},
 "encoding": {"x": {"field": "w", "type": "quantitative"}, "y": {"field": "v2", "type": "quantitative"}}}
]
}
]
},
{
"width": 338, "height": 248,
"title": {"text": "E"},
"layer": [
{"data": {"name": "conv"}, "mark": {"type": "line", "strokeWidth": 1.4},
 "encoding": {
  "x": {"field": "t", "type": "quantitative", "scale": {"domain": [-1, 55], "nice": false, "zero": false}, "axis": {"title": "Time (min)", "values": [0,5,10,15,20,25,30,35,40,45,50], "format": "d", "labelExpr": "datum.value % 10 == 0 ? datum.label : ''", "tickSize": {"condition": {"test": "datum.value % 10 == 0", "value": 6}, "value": 3}}},
  "y": {"field": "c", "type": "quantitative", "scale": {"domain": [-3, 105], "nice": false, "zero": false}, "axis": {"title": "Conversion (%)", "values": [0,10,20,30,40,50,60,70,80,90,100], "format": "d", "labelExpr": "datum.value % 20 == 0 ? datum.label : ''", "tickSize": {"condition": {"test": "datum.value % 20 == 0", "value": 6}, "value": 3}}},
  "stroke": {"field": "s", "type": "nominal", "scale": {"domain": ["3:0","3:1","3:2","3:3"], "range": ["#e3231e","#3b7fc4","#3fae49","#9b4dca"]},
    "legend": {"title": null, "orient": "bottom-right", "offset": 28, "padding": 0, "labelFont": "Liberation Sans", "labelFontSize": 19.5, "labelColor": "#1a1a1a", "symbolSize": 55, "rowPadding": 4, "labelOffset": 12}}
 }},
{"data": {"name": "conv"}, "mark": {"type": "point", "filled": true, "size": 55, "opacity": 1},
 "encoding": {
  "x": {"field": "t", "type": "quantitative"},
  "y": {"field": "c", "type": "quantitative"},
  "color": {"field": "s", "type": "nominal", "scale": {"domain": ["3:0","3:1","3:2","3:3"], "range": ["#e3231e","#3b7fc4","#3fae49","#9b4dca"]},
    "legend": {"title": null, "orient": "bottom-right", "offset": 28, "padding": 0, "labelFont": "Liberation Sans", "labelFontSize": 19.5, "labelColor": "#1a1a1a", "symbolSize": 55, "rowPadding": 4, "labelOffset": 12}},
  "shape": {"field": "s", "type": "nominal", "scale": {"domain": ["3:0","3:1","3:2","3:3"], "range": ["square","circle","triangle-up","triangle-down"]},
    "legend": {"title": null, "orient": "bottom-right", "offset": 28, "padding": 0, "labelFont": "Liberation Sans", "labelFontSize": 19.5, "labelColor": "#1a1a1a", "symbolSize": 55, "rowPadding": 4, "labelOffset": 12}}
 }}
]
}
]
},
{
"spacing": 22,
"resolve": {"scale": {"color": "independent", "shape": "independent", "stroke": "independent"}, "legend": {"color": "independent", "shape": "independent", "stroke": "independent"}},
"hconcat": [
{
"spacing": 22,
"resolve": {"scale": {"color": "independent", "shape": "independent", "stroke": "independent"}, "legend": {"color": "independent", "shape": "independent", "stroke": "independent"}},
"hconcat": [
{
"width": 339, "height": 247,
"title": {"text": "B"},
"layer": [
{"data": {"name": "sB"}, "mark": {"type": "line", "strokeWidth": 1.3, "interpolate": "monotone", "clip": true},
 "encoding": {
  "x": {"field": "w", "type": "quantitative", "scale": {"domain": [250, 515], "nice": false, "zero": false}, "axis": {"title": "Wavelength (nm)", "values": [250,275,300,325,350,375,400,425,450,475,500], "format": "d", "labelExpr": "datum.value % 50 == 0 ? datum.label : ''", "tickSize": {"condition": {"test": "datum.value % 50 == 0", "value": 6}, "value": 3}}},
  "y": {"field": "v", "type": "quantitative", "scale": {"domain": [0, 1.6], "nice": false, "zero": false}, "axis": {"title": "Intensity (a.u.)", "values": [0,0.15,0.3,0.45,0.6,0.75,0.9,1.05,1.2,1.35,1.5], "labelExpr": "round(datum.value*100) % 30 == 0 ? format(datum.value, '.1f') : ''", "tickSize": {"condition": {"test": "round(datum.value*100) % 30 == 0", "value": 6}, "value": 3}}},
  "color": {"field": "k", "type": "nominal", "scale": {"domain": [0,1,2,3,4,5,6,7,8,9], "range": ["#cc3a33","#3a7dbb","#4aa352","#8f57b2","#f2901e","#8c5a46","#e486c4","#bdb528","#2e9e55","#1db6c8"]}, "legend": null}
 }},
{"data": {"name": "ann"}, "transform": [{"filter": "datum.p == 'B'"}], "mark": {"type": "text", "fontSize": 19.5, "color": "#1a1a1a"},
 "encoding": {"x": {"field": "w", "type": "quantitative"}, "y": {"field": "v", "type": "quantitative"}, "text": {"field": "t"}}},
{"data": {"name": "arr"}, "transform": [{"filter": "datum.p == 'B'"}], "mark": {"type": "rule", "color": "#1a1a1a", "strokeWidth": 1.3},
 "encoding": {"x": {"field": "w", "type": "quantitative"}, "y": {"field": "v1", "type": "quantitative"}, "y2": {"field": "v2"}}},
{"data": {"name": "arr"}, "transform": [{"filter": "datum.p == 'B'"}], "mark": {"type": "point", "shape": "M-0.5,-1L0.5,-1L0,1Z", "filled": true, "color": "#1a1a1a", "size": 90, "opacity": 1},
 "encoding": {"x": {"field": "w", "type": "quantitative"}, "y": {"field": "v2", "type": "quantitative"}}}
]
},
{
"width": 338, "height": 247,
"title": {"text": "D"},
"layer": [
{"data": {"name": "sD"}, "mark": {"type": "line", "strokeWidth": 1.3, "interpolate": "monotone", "clip": true},
 "encoding": {
  "x": {"field": "w", "type": "quantitative", "scale": {"domain": [250, 515], "nice": false, "zero": false}, "axis": {"title": "Wavelength (nm)", "values": [250,275,300,325,350,375,400,425,450,475,500], "format": "d", "labelExpr": "datum.value % 50 == 0 ? datum.label : ''", "tickSize": {"condition": {"test": "datum.value % 50 == 0", "value": 6}, "value": 3}}},
  "y": {"field": "v", "type": "quantitative", "scale": {"domain": [0, 1.6], "nice": false, "zero": false}, "axis": {"title": "Intensity (a.u.)", "values": [0,0.15,0.3,0.45,0.6,0.75,0.9,1.05,1.2,1.35,1.5], "labelExpr": "round(datum.value*100) % 30 == 0 ? format(datum.value, '.1f') : ''", "tickSize": {"condition": {"test": "round(datum.value*100) % 30 == 0", "value": 6}, "value": 3}}},
  "color": {"field": "k", "type": "nominal", "scale": {"domain": [0,1,2,3,4,5,6,7,8,9], "range": ["#cc3a33","#3a7dbb","#4aa352","#8f57b2","#f2901e","#8c5a46","#e486c4","#bdb528","#2e9e55","#1db6c8"]}, "legend": null}
 }},
{"data": {"name": "ann"}, "transform": [{"filter": "datum.p == 'D'"}], "mark": {"type": "text", "fontSize": 19.5, "color": "#1a1a1a"},
 "encoding": {"x": {"field": "w", "type": "quantitative"}, "y": {"field": "v", "type": "quantitative"}, "text": {"field": "t"}}},
{"data": {"name": "arr"}, "transform": [{"filter": "datum.p == 'D'"}], "mark": {"type": "rule", "color": "#1a1a1a", "strokeWidth": 1.3},
 "encoding": {"x": {"field": "w", "type": "quantitative"}, "y": {"field": "v1", "type": "quantitative"}, "y2": {"field": "v2"}}},
{"data": {"name": "arr"}, "transform": [{"filter": "datum.p == 'D'"}], "mark": {"type": "point", "shape": "M-0.5,-1L0.5,-1L0,1Z", "filled": true, "color": "#1a1a1a", "size": 90, "opacity": 1},
 "encoding": {"x": {"field": "w", "type": "quantitative"}, "y": {"field": "v2", "type": "quantitative"}}}
]
}
]
},
{
"width": 338, "height": 247,
"title": {"text": "F"},
"layer": [
{"data": {"name": "fit"}, "mark": {"type": "line", "strokeWidth": 1.4},
 "encoding": {
  "x": {"field": "t", "type": "quantitative", "scale": {"domain": [-1, 55], "nice": false, "zero": false}, "axis": {"title": "Time (min)", "values": [0,5,10,15,20,25,30,35,40,45,50], "format": "d", "labelExpr": "datum.value % 10 == 0 ? datum.label : ''", "tickSize": {"condition": {"test": "datum.value % 10 == 0", "value": 6}, "value": 3}}},
  "y": {"field": "y", "type": "quantitative", "scale": {"domain": [-0.1, 3.2], "nice": false, "zero": false}, "axis": {"title": "ln(A₀/Aₜ)", "values": [0,0.25,0.5,0.75,1,1.25,1.5,1.75,2,2.25,2.5,2.75,3], "labelExpr": "round(datum.value*100) % 50 == 0 ? format(datum.value, '.1f') : ''", "tickSize": {"condition": {"test": "round(datum.value*100) % 50 == 0", "value": 6}, "value": 3}}},
  "stroke": {"field": "s", "type": "nominal", "scale": {"domain": ["3:0","3:1","3:2","3:3"], "range": ["#e3231e","#3b7fc4","#3fae49","#9b4dca"]},
    "legend": {"title": null, "orient": "bottom-right", "offset": 25, "padding": 0, "labelFont": "Liberation Sans", "labelFontSize": 19.5, "labelColor": "#1a1a1a", "symbolSize": 50, "rowPadding": 4, "labelOffset": 14}}
 }},
{"data": {"name": "lnr"}, "mark": {"type": "point", "filled": true, "size": 50, "opacity": 1},
 "encoding": {
  "x": {"field": "t", "type": "quantitative"},
  "y": {"field": "y", "type": "quantitative"},
  "color": {"field": "s", "type": "nominal", "scale": {"domain": ["3:0","3:1","3:2","3:3"], "range": ["#e3231e","#3b7fc4","#3fae49","#9b4dca"]},
    "legend": {"title": null, "orient": "bottom-right", "offset": 25, "padding": 0, "labelFont": "Liberation Sans", "labelFontSize": 19.5, "labelColor": "#1a1a1a", "symbolSize": 50, "rowPadding": 4, "labelOffset": 14}},
  "shape": {"field": "s", "type": "nominal", "scale": {"domain": ["3:0","3:1","3:2","3:3"], "range": ["square","circle","triangle-up","triangle-down"]},
    "legend": {"title": null, "orient": "bottom-right", "offset": 25, "padding": 0, "labelFont": "Liberation Sans", "labelFontSize": 19.5, "labelColor": "#1a1a1a", "symbolSize": 50, "rowPadding": 4, "labelOffset": 14}}
 }}
]
}
]
}
]
},
{
"width": 1240, "height": 43,
"view": {"stroke": null},
"data": {"name": "cap"},
"layer": [
{"transform": [{"filter": "datum.seg == 'b'"}], "mark": {"type": "text", "align": "left", "baseline": "middle", "font": "Open Sans", "fontSize": 18, "fontWeight": "bold", "color": "#1a1a1a"},
 "encoding": {"x": {"value": -67}, "y": {"field": "line", "type": "ordinal", "scale": {"type": "point", "padding": 0, "domain": [1,2,3]}, "axis": null}, "text": {"field": "text"}}},
{"transform": [{"filter": "datum.seg == 'r'"}], "mark": {"type": "text", "align": "left", "baseline": "middle", "font": "Open Sans", "fontSize": 18, "color": "#1a1a1a", "dx": 52},
 "encoding": {"x": {"value": -67}, "y": {"field": "line", "type": "ordinal", "axis": null}, "text": {"field": "text"}}},
{"transform": [{"filter": "datum.seg == 'n'"}], "mark": {"type": "text", "align": "left", "baseline": "middle", "font": "Open Sans", "fontSize": 18, "color": "#1a1a1a"},
 "encoding": {"x": {"value": -67}, "y": {"field": "line", "type": "ordinal", "axis": null}, "text": {"field": "text"}}}
]
}
]
}
